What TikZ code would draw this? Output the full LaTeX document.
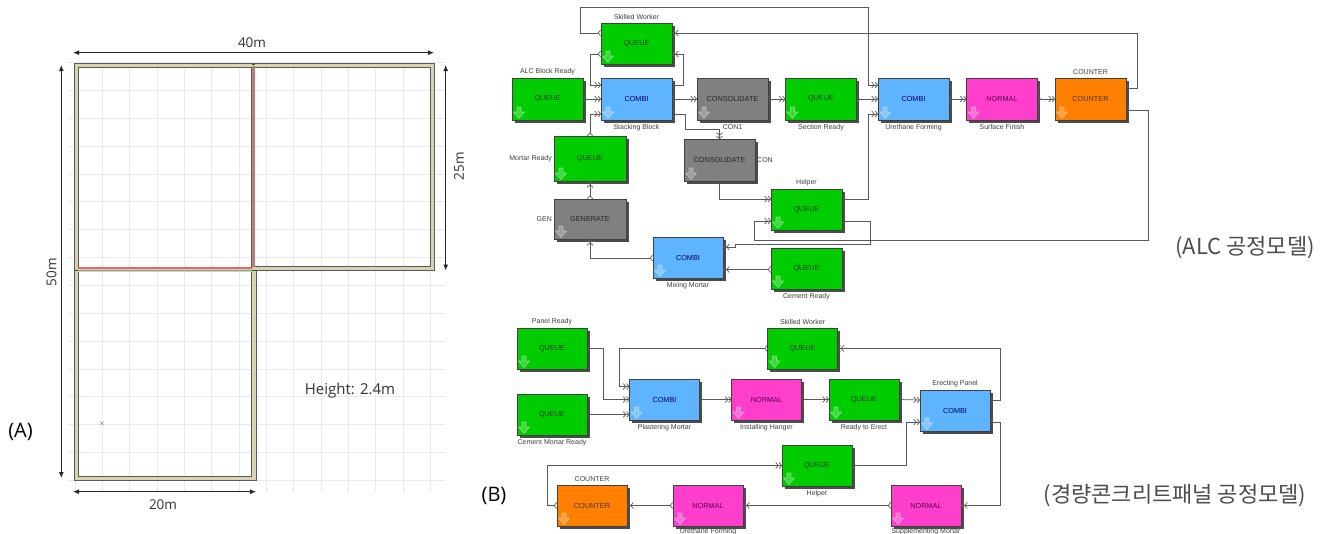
\documentclass[tikz,border=0pt]{standalone}
\usepackage{fontspec}
\setmainfont{Liberation Sans}
\newfontfamily\planfont{Open Sans}
\newfontfamily\krfont{Noto Sans CJK KR}
\usetikzlibrary{arrows.meta, shadows}

\definecolor{queuegreen}{HTML}{00CC00}
\definecolor{combiblue}{HTML}{5FB4FF}
\definecolor{normalpink}{HTML}{FF3FCC}
\definecolor{countorange}{HTML}{FF8000}
\definecolor{consgray}{HTML}{808080}
\definecolor{walltan}{HTML}{D9D2B0}
\definecolor{gridline}{HTML}{E8EAF0}
\definecolor{wallred}{HTML}{DF6A62}
\definecolor{wallblue}{HTML}{7FA0A8}

\tikzset{
    block/.style={draw=black!75, line width=0.8pt, inner sep=0pt, outer sep=0pt,
        minimum width=71pt, minimum height=42pt,
        font=\fontsize{7.3}{8}\selectfont,
        drop shadow={shadow xshift=2.5pt, shadow yshift=-2.5pt, fill=black, opacity=0.7}},
    queue/.style={block, fill=queuegreen, text=green!25!black},
    combi/.style={block, fill=combiblue, text=blue!40!black},
    normal/.style={block, fill=normalpink, text=violet!70!black},
    counter/.style={block, fill=countorange, text=brown!40!black},
    cons/.style={block, fill=consgray, text=black!85},
    lab/.style={font=\fontsize{7}{8}\selectfont, text=black!75, inner sep=0.5pt},
    labt/.style={lab, yshift=1pt},
    labb/.style={lab, yshift=-2.5pt},
    flow/.style={draw=black!65, line width=0.7pt,
        {Straight Barb[reversed, length=2.5pt, width=6pt]}-{Straight Barb[length=2.5pt, width=6pt]Straight Barb[length=2.5pt, width=6pt]}},
    downicon/.style={draw=white, fill=white, fill opacity=0.25, draw opacity=0.4, line width=0.6pt},
    wall/.style={draw=black!65, fill=walltan, line width=0.7pt, even odd rule},
    dimline/.style={black!85, line width=0.9pt, {Latex[length=6pt, width=5pt]}-{Latex[length=6pt, width=5pt]}},
    planlab/.style={font=\planfont\fontsize{13.5}{15}\selectfont, text=black!80, inner sep=0pt},
    panellab/.style={font=\planfont\fontsize{20}{22}\selectfont, text=black, inner sep=0pt},
    caption/.style={font=\krfont\fontsize{22}{24}\selectfont, text=black!70, inner sep=0pt}
}

\begin{document}
\begin{tikzpicture}[x=1pt, y=-1pt, label distance=1.5pt]
    \fill[white] (0, 0) rectangle (1332, 533);
    \useasboundingbox (0, 0) rectangle (1332, 533);

    % Floor plan grid
    \foreach \gx in {0,...,13}
        \draw[gridline, line width=0.7pt] ({75 + 27.33*\gx}, 62) -- ({75 + 27.33*\gx}, 492);
    \foreach \gy in {0,...,15}
        \draw[gridline, line width=0.7pt] (68, {62.5 + 27.85*\gy}) -- (445, {62.5 + 27.85*\gy});

    % Walls
    \draw[wall] (74, 63.5) -- (434.5, 63.5) -- (434.5, 270.5) -- (256, 270.5) -- (256, 480) -- (74, 480) -- cycle
        (78, 67) rectangle (251.7, 267)
        (254.5, 67) rectangle (430.3, 266.5)
        (78, 271.7) rectangle (251.7, 476);

    % Dividing walls
    \fill[walltan] (251.7, 65) rectangle (254.5, 268);
    \fill[walltan] (76, 267) rectangle (254.5, 271.7);
    \draw[wallred, line width=1.3pt] (254, 66) -- (254, 267);
    \draw[wallblue, line width=1.2pt] (252.3, 66) -- (252.3, 268);
    \draw[wallred, line width=1.5pt] (78, 268.2) -- (252, 268.2);
    \draw[wallblue, line width=1.2pt] (76, 270.8) -- (255, 270.8);
    \draw[green!45!black, line width=1pt] (252, 64.5) -- (255, 64.5);
    \draw[green!45!black, line width=1pt] (75, 270) -- (78, 270);
    \draw[green!45!black, line width=1pt] (252, 270.5) -- (255.5, 270.5);

    % Plan dimensions
    \draw[dimline] (73, 52.7) -- (434, 52.7);
    \draw[dimline] (61.3, 65) -- (61.3, 478);
    \draw[dimline] (445.7, 65) -- (445.7, 270.5);
    \draw[dimline] (73, 491.7) -- (256, 491.7);
    \node[planlab] (dimtop) at (252, 43) {40m};
    \node[planlab, rotate=90] (dimleft) at (51.5, 272) {50m};
    \node[planlab, rotate=90] (dimright) at (459, 166) {25m};
    \node[planlab] (dimbottom) at (163, 505) {20m};
    \node[planlab, font=\planfont\fontsize{15}{17}\selectfont] (height) at (350, 391) {Height: 2.4m};
    \node[font=\fontsize{7}{7}\selectfont, text=black!80, inner sep=0pt] (mark) at (102, 424) {$\times$};

    % Panel captions
    \node[panellab] (capA) at (20.5, 432) {(A)};
    \node[panellab] (capB) at (494, 496) {(B)};
    \node[caption] (capalc) at (1245, 248) {(ALC 공정모델)};
    \node[caption] (cappanel) at (1175, 496) {(경량콘크리트패널 공정모델)};

    % ALC model
    \node[queue, minimum height=41pt, label={[labt]above:Skilled Worker}] (skilled) at (636.5, 43.5) {QUEUE};
    \node[queue, label={[labt]above:ALC Block Ready}] (alc) at (547.5, 99) {QUEUE};
    \node[combi, label={[labb]below:Stacking Block}] (stacking) at (636.5, 99) {COMBI};
    \node[cons, label={[labb]below:CON1}] (con1) at (732.5, 99) {CONSOLIDATE};
    \node[queue, label={[labb]below:Section Ready}] (section) at (821, 99) {QUEUE};
    \node[combi, label={[labb]below:Urethane Forming}] (urethane) at (913.5, 99) {COMBI};
    \node[normal, label={[labb]below:Surface Finish}] (surface) at (1002, 99) {NORMAL};
    \node[counter, label={[labt]above:COUNTER}] (counter) at (1090.5, 99) {COUNTER};
    \node[queue, minimum width=72pt, minimum height=45pt, label={[lab]left:Mortar Ready}] (mortar) at (590, 158.5) {QUEUE};
    \node[cons, minimum width=72pt, minimum height=40pt, label={[lab]left:GEN}] (generate) at (590, 219) {GENERATE};
    \node[cons, label={[lab]right:CON}] (con) at (719.5, 160) {CONSOLIDATE};
    \node[queue, minimum height=41pt, label={[labt]above:Helper}] (helper) at (806.5, 209.5) {QUEUE};
    \node[combi, minimum width=70pt, minimum height=41pt, label={[labb]below:Mixing Mortar}] (mixing) at (688, 257.5) {COMBI};
    \node[queue, minimum height=41pt, label={[labb]below:Cement Ready}] (cement) at (806.5, 268.5) {QUEUE};

    % ALC connectors
    \draw[flow] ([yshift=10.5pt]skilled.west) -- (580, 33) -- (580, 7) -- (868, 7) |- ([yshift=14pt]urethane.west);
    \draw[flow] ([yshift=11pt]counter.east) -- (1137, 88) |- ([yshift=10.5pt]skilled.east);
    \draw[flow] ([yshift=-10.5pt]skilled.west) -- (590.5, 54) |- ([yshift=14pt]stacking.west);
    \draw[flow] ([yshift=14pt]stacking.east) -- (683, 85) |- ([yshift=-10.5pt]skilled.east);
    \draw[flow] (alc.east) -- (stacking.west);
    \draw[flow] (mortar.north) |- ([yshift=-15pt]stacking.west);
    \draw[flow] (stacking.east) -- (con1.west);
    \draw[flow] (con1.east) -- (section.west);
    \draw[flow] (section.east) -- (urethane.west);
    \draw[flow] (urethane.east) -- (surface.west);
    \draw[flow] (surface.east) -- (counter.west);
    \draw[flow] ([yshift=-15pt]stacking.east) -- (685, 114) -- (685, 129) -| (con.north);
    \draw[flow] (con.south) |- ([yshift=10.5pt]helper.west);
    \draw[flow] ([yshift=10.5pt]helper.east) -- (868, 199) |- ([yshift=-15pt]urethane.west);
    \draw[flow] ([yshift=-11.5pt]counter.east) -- (1148, 110.5) -- (1148, 240) -- (754.5, 240) |- ([yshift=-11.5pt]helper.west);
    \draw[flow] ([yshift=-11.5pt]helper.east) -- (870, 221) -- (870, 244) -- (735, 244) -- (735, 247) -- ([yshift=10.5pt]mixing.east);
    \draw[flow] ([yshift=-1pt]cement.west) -- ([yshift=-12pt]mixing.east);
    \draw[flow] ([yshift=-0.5pt]mixing.west) -| (generate.south);
    \draw[flow] (generate.north) -- (mortar.south);

    % Panel model
    \node[queue, minimum width=70pt, minimum height=41pt, label={[labt]above:Panel Ready}] (panel) at (552, 348.5) {QUEUE};
    \node[queue, minimum width=70pt, minimum height=41pt, label={[labb]below:Cement Mortar Ready}] (cementmortar) at (552, 414.5) {QUEUE};
    \node[combi, minimum width=70pt, minimum height=41pt, label={[labb]below:Plastering Mortar}] (plaster) at (664.5, 399.5) {COMBI};
    \node[normal, minimum width=70pt, minimum height=41pt, label={[labb]below:Installing Hanger}] (hanger) at (766.5, 399.5) {NORMAL};
    \node[queue, minimum width=70pt, minimum height=41pt, label={[labt]above:Skilled Worker}] (skilledtwo) at (802.5, 348.5) {QUEUE};
    \node[queue, minimum width=70pt, minimum height=41pt, label={[labb]below:Ready to Erect}] (erect) at (864, 399.5) {QUEUE};
    \node[combi, minimum width=70pt, minimum height=41pt, label={[labt]above:Erecting Panel}] (erecting) at (955, 410.5) {COMBI};
    \node[queue, minimum width=70pt, minimum height=41pt, label={[labb]below:Helper}] (helpertwo) at (817, 465.5) {QUEUE};
    \node[normal, minimum width=70pt, minimum height=41pt, label={[lab, yshift=-0.5pt]below:Supplementing Mortar}] (supplement) at (926, 505.5) {NORMAL};
    \node[normal, minimum width=70pt, minimum height=41pt, label={[lab, yshift=-0.5pt]below:Urethane Forming}] (urethanetwo) at (708, 505.5) {NORMAL};
    \node[counter, minimum width=70pt, minimum height=41pt, label={[labt]above:COUNTER}] (countertwo) at (592, 505.5) {COUNTER};

    % Panel connectors
    \draw[flow] (panel.east) -- (603, 348.5) |- (plaster.west);
    \draw[flow] (cementmortar.east) -- (cementmortar.east -| plaster.west);
    \draw[flow] (skilledtwo.west) -- (619, 348.5) |- ([yshift=13pt]plaster.west);
    \draw[flow] (plaster.east) -- (hanger.west);
    \draw[flow] (hanger.east) -- (erect.west);
    \draw[flow] (erect.east) -- ([yshift=10.5pt]erecting.west);
    \draw[flow] ([yshift=10.5pt]erecting.east) -- (1000.7, 400) |- (skilledtwo.east);
    \draw[flow] ([yshift=-11.5pt]erecting.east) -- (1000.7, 422) |- (supplement.east);
    \draw[flow] (helpertwo.east) -- (906, 465.5) |- ([yshift=-11.5pt]erecting.west);
    \draw[flow] (supplement.west) -- (urethanetwo.east);
    \draw[flow] (urethanetwo.west) -- (countertwo.east);
    \draw[flow] (countertwo.west) -- (547, 505.5) |- (helpertwo.west);

    % Down arrows in the block corners
    \foreach \blk in {skilled, alc, stacking, con1, section, urethane, surface, counter, mortar, generate, con, helper, mixing, cement, panel, cementmortar, plaster, hanger, skilledtwo, erect, erecting, helpertwo, supplement, urethanetwo, countertwo}
        \draw[downicon, shift={(\blk.south west)}] (5, -13) -- (9, -13) -- (9, -8) -- (12.5, -8) -- (7, -1.5) -- (1.5, -8) -- (5, -8) -- cycle;
\end{tikzpicture}
\end{document}
